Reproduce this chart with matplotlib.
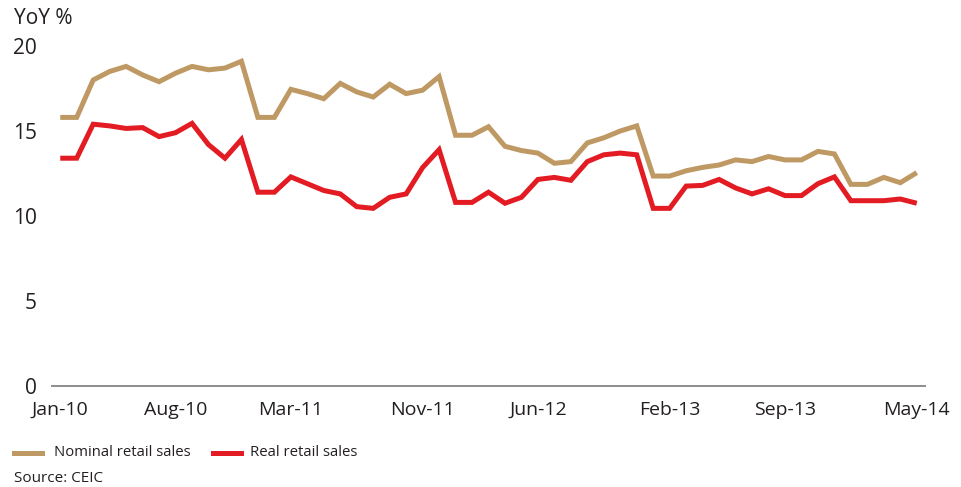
import matplotlib
matplotlib.use("Agg")
import matplotlib.pyplot as plt
from matplotlib.lines import Line2D

months = ["Jan-10","Feb-10","Mar-10","Apr-10","May-10","Jun-10","Jul-10","Aug-10","Sep-10","Oct-10","Nov-10","Dec-10",
          "Jan-11","Feb-11","Mar-11","Apr-11","May-11","Jun-11","Jul-11","Aug-11","Sep-11","Oct-11","Nov-11","Dec-11",
          "Jan-12","Feb-12","Mar-12","Apr-12","May-12","Jun-12","Jul-12","Aug-12","Sep-12","Oct-12","Nov-12","Dec-12",
          "Jan-13","Feb-13","Mar-13","Apr-13","May-13","Jun-13","Jul-13","Aug-13","Sep-13","Oct-13","Nov-13","Dec-13",
          "Jan-14","Feb-14","Mar-14","Apr-14","May-14"]

nominal = [15.8, 15.8, 18.0, 18.5, 18.8, 18.3, 17.9, 18.4, 18.8, 18.6, 18.7, 19.1,
           15.8, 15.8, 17.45, 17.2, 16.9, 17.8, 17.3, 17.0, 17.75, 17.2, 17.4, 18.2,
           14.75, 14.75, 15.25, 14.1, 13.85, 13.7, 13.1, 13.2, 14.3, 14.6, 15.0, 15.3,
           12.35, 12.35, 12.66, 12.86, 13.0, 13.3, 13.2, 13.5, 13.3, 13.3, 13.8, 13.65,
           11.86, 11.86, 12.27, 11.96, 12.55]

real = [13.4, 13.4, 15.4, 15.3, 15.15, 15.2, 14.67, 14.9, 15.45, 14.2, 13.4, 14.5,
        11.4, 11.4, 12.3, 11.9, 11.5, 11.3, 10.55, 10.45, 11.1, 11.3, 12.85, 13.9,
        10.8, 10.8, 11.4, 10.75, 11.1, 12.15, 12.27, 12.1, 13.2, 13.6, 13.7, 13.6,
        10.45, 10.45, 11.76, 11.8, 12.15, 11.65, 11.3, 11.6, 11.2, 11.2, 11.9, 12.3,
        10.9, 10.9, 10.9, 11.0, 10.75]

tick_labels = ["Jan-10", "Aug-10", "Mar-11", "Nov-11", "Jun-12", "Feb-13", "Sep-13", "May-14"]
y_ticks = [0, 5, 10, 15, 20]

series_names = ["Nominal retail sales", "Real retail sales"]
TAN = "#BF9963"
RED = "#E31B23"
TXT = "#231F20"

plt.rcParams["font.family"] = ["Open Sans", "DejaVu Sans"]

W, H = 961, 487
fig = plt.figure(figsize=(W / 100, H / 100), dpi=100)
ax = fig.add_axes([52 / W, 1 - 386 / H, (925 - 52) / W, (386 - 46) / H])

x = list(range(len(months)))
ax.plot(x, nominal, color=TAN, lw=3.6, solid_joinstyle="miter", solid_capstyle="butt")
ax.plot(x, real, color=RED, lw=3.6, solid_joinstyle="miter", solid_capstyle="butt")

ax.set_xlim(-0.5, len(months) - 0.5)
ax.set_ylim(0, 20)
ax.set_yticks(y_ticks)
ax.set_yticklabels([str(v) for v in y_ticks])
ax.set_xticks([months.index(m) for m in tick_labels])
ax.set_xticklabels(tick_labels)
ax.tick_params(axis="both", length=0, labelsize=14, colors=TXT)
ax.tick_params(axis="y", pad=11, labelsize=15)
ax.tick_params(axis="x", pad=11)

for s in ["top", "right", "left"]:
    ax.spines[s].set_visible(False)
ax.spines["bottom"].set_color("#8C8C8C")
ax.spines["bottom"].set_linewidth(1.4)
ax.set_facecolor("none")

fig.text(14 / W, 1 - 19 / H, "YoY %", fontsize=15, color=TXT, va="center", ha="left")

# legend
fig.add_artist(Line2D([14 / W, 42 / W], [1 - 453 / H] * 2, color=TAN, lw=3.6, transform=fig.transFigure))
fig.text(54 / W, 1 - 453 / H, series_names[0], fontsize=10.7, color=TXT, va="center", ha="left")
fig.add_artist(Line2D([213 / W, 241 / W], [1 - 453 / H] * 2, color=RED, lw=3.6, transform=fig.transFigure))
fig.text(250 / W, 1 - 453 / H, series_names[1], fontsize=10.7, color=TXT, va="center", ha="left")
fig.text(14 / W, 1 - 478 / H, "Source: CEIC", fontsize=11, color=TXT, va="center", ha="left")

fig.savefig("out.png", dpi=100)
